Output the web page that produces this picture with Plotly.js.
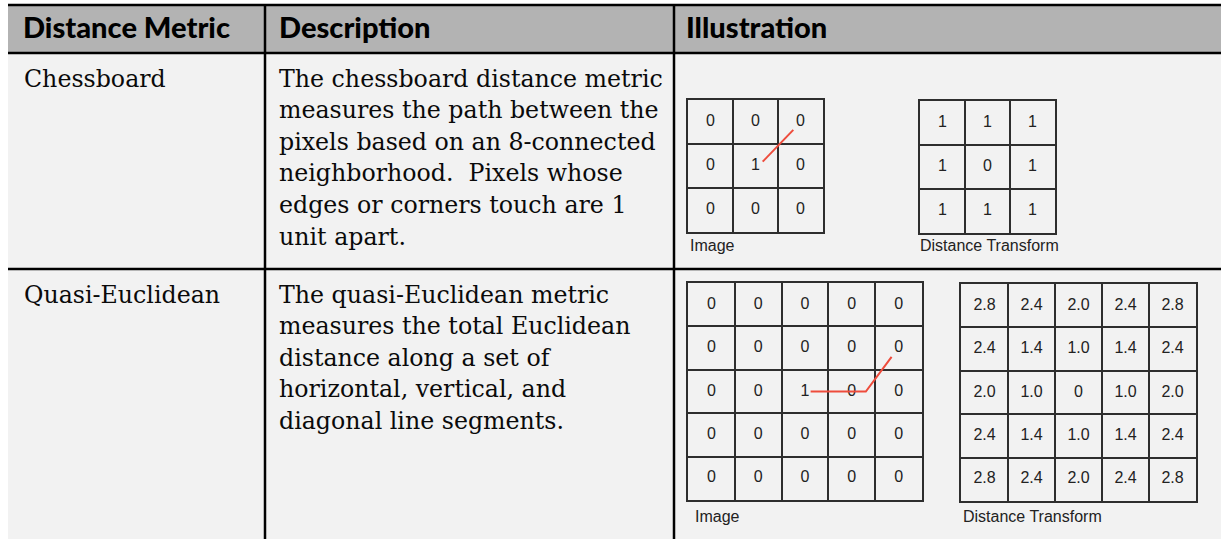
<!DOCTYPE html>
<html>
<head>
<meta charset="utf-8">
<script src="https://cdn.plot.ly/plotly-3.0.1.min.js"></script>
<style>
html, body { margin: 0; padding: 0; background: #ffffff; }
#chart { width: 1221px; height: 539px; }
</style>
</head>
<body>
<div id="chart"></div>
<script>
// ---------------- data ----------------
const headers = ['Distance Metric', 'Description', 'Illustration'];
const metrics = ['Chessboard', 'Quasi-Euclidean'];
const chessDescription = [
  'The chessboard distance metric',
  'measures the path between the',
  'pixels based on an 8-connected',
  'neighborhood.\u00a0 Pixels whose',
  'edges or corners touch are 1',
  'unit apart.'
];
const quasiDescription = [
  'The quasi-Euclidean metric',
  'measures the total Euclidean',
  'distance along a set of',
  'horizontal, vertical, and',
  'diagonal line segments.'
];
const panelLabels = ['Image', 'Distance Transform'];
const chessImage = [
  [0, 0, 0],
  [0, 1, 0],
  [0, 0, 0]
];
const chessTransform = [
  [1, 1, 1],
  [1, 0, 1],
  [1, 1, 1]
];
const quasiImage = [
  [0, 0, 0, 0, 0],
  [0, 0, 0, 0, 0],
  [0, 0, 1, 0, 0],
  [0, 0, 0, 0, 0],
  [0, 0, 0, 0, 0]
];
const quasiTransform = [
  [2.8, 2.4, 2.0, 2.4, 2.8],
  [2.4, 1.4, 1.0, 1.4, 2.4],
  [2.0, 1.0, 0, 1.0, 2.0],
  [2.4, 1.4, 1.0, 1.4, 2.4],
  [2.8, 2.4, 2.0, 2.4, 2.8]
];
// red path drawn over the images, in grid (column, row) units
const chessPathCol = [1.66, 2.34];
const chessPathRow = [1.40, 0.68];
const quasiPathCol = [2.62, 3.80, 4.35];
const quasiPathRow = [2.50, 2.50, 1.70];

// ---------------- layout constants ----------------
const W = 1221, H = 539;
const colEdges = [8, 265, 674, W];
const rowEdges = [5, 53, 269, H];
const headerInset = [15, 14, 12];
const bodyInset = [16, 14];
const headerBaseline = 38;
const firstBaseline = 33.6;
const lineGap = 31.6;

function textWidth(text, family, weight, size) {
  const ctx = document.createElement('canvas').getContext('2d');
  ctx.font = weight + ' ' + size + 'px "' + family + '"';
  return ctx.measureText(text).width;
}
const bodyFamily = 'DejaVu Serif';
const headFamily = 'Lato';
const headWeight = 900;
const bodySize = 100 * 384 / textWidth(chessDescription[0], bodyFamily, 'normal', 100);
const headSize = 100 * 207 / textWidth(headers[0], headFamily, headWeight, 100);
const numSize = 16;
const numFont = { family: 'Liberation Sans, Arial, sans-serif', size: numSize, color: '#222222' };

const traces = [];
function textTrace(xs, ys, texts, font) {
  return {
    type: 'scatter', mode: 'text', x: xs, y: ys, text: texts,
    textposition: 'middle right', textfont: font, cliponaxis: false,
    hoverinfo: 'skip', showlegend: false, xaxis: 'x', yaxis: 'y'
  };
}

// header row
traces.push(textTrace(
  headers.map((h, i) => colEdges[i] + headerInset[i]),
  headers.map(() => headerBaseline - 0.25 * headSize),
  headers,
  { family: headFamily, size: headSize, color: '#000000', weight: headWeight }
));

// body rows
const bodyFont = { family: bodyFamily, size: bodySize, color: '#0a0a0a' };
const descriptions = [chessDescription, quasiDescription];
metrics.forEach((m, r) => {
  const base = rowEdges[r + 1] + firstBaseline;
  traces.push(textTrace([colEdges[0] + bodyInset[0]], [base - 0.25 * bodySize], [m], bodyFont));
  const lines = descriptions[r];
  traces.push(textTrace(
    lines.map(() => colEdges[1] + bodyInset[1]),
    lines.map((_, i) => base + i * lineGap - 0.25 * bodySize),
    lines, bodyFont
  ));
});

// illustration panels
const intFmt = v => String(v);
const decFmt = v => (v === 0 ? '0' : v.toFixed(1));
const panels = [
  { values: chessImage, fmt: intFmt, path: [chessPathCol, chessPathRow], box: [688, 100, 823, 232], label: panelLabels[0], labelX: 690, labelBase: 251 },
  { values: chessTransform, fmt: intFmt, path: null, box: [920, 101, 1055, 233], label: panelLabels[1], labelX: 920, labelBase: 251 },
  { values: quasiImage, fmt: intFmt, path: [quasiPathCol, quasiPathRow], box: [688, 283, 922, 500], label: panelLabels[0], labelX: 695, labelBase: 522 },
  { values: quasiTransform, fmt: decFmt, path: null, box: [961, 284, 1196, 501], label: panelLabels[1], labelX: 963, labelBase: 522 }
];

const layout = {
  width: W, height: H,
  margin: { l: 0, r: 0, t: 0, b: 0, pad: 0 },
  paper_bgcolor: '#ffffff',
  plot_bgcolor: 'rgba(0,0,0,0)',
  showlegend: false,
  xaxis: { domain: [0, 1], range: [0, W], visible: false, fixedrange: true },
  yaxis: { domain: [0, 1], range: [H, 0], visible: false, fixedrange: true },
  shapes: []
};

const gridStyle = {
  showgrid: true, tick0: 0, dtick: 1, gridcolor: '#2e2e2e', gridwidth: 2,
  showline: true, mirror: true, linecolor: '#2e2e2e', linewidth: 2,
  zeroline: false, showticklabels: false, ticks: '', fixedrange: true
};

panels.forEach((p, k) => {
  const ax = k + 2;
  const n = p.values.length;
  const xs = [], ys = [], ts = [];
  p.values.forEach((row, r) => row.forEach((v, c) => {
    xs.push(c + 0.5); ys.push(r + 0.5); ts.push(p.fmt(v));
  }));
  traces.push({
    type: 'scatter', mode: 'text', x: xs, y: ys, text: ts,
    textposition: 'middle center', textfont: numFont,
    xaxis: 'x' + ax, yaxis: 'y' + ax, hoverinfo: 'skip', showlegend: false, cliponaxis: false
  });
  if (p.path) {
    traces.push({
      type: 'scatter', mode: 'lines', x: p.path[0], y: p.path[1],
      line: { color: '#ee4c3c', width: 2 },
      xaxis: 'x' + ax, yaxis: 'y' + ax, hoverinfo: 'skip', showlegend: false
    });
  }
  const [x0, y0, x1, y1] = p.box;
  layout['xaxis' + ax] = Object.assign({}, gridStyle, { domain: [x0 / W, x1 / W], range: [0, n], anchor: 'y' + ax });
  layout['yaxis' + ax] = Object.assign({}, gridStyle, { domain: [1 - y1 / H, 1 - y0 / H], range: [n, 0], anchor: 'x' + ax });
  traces.push(textTrace([p.labelX], [p.labelBase - 0.25 * numSize], [p.label], numFont));
});

// table structure
const S = layout.shapes;
S.push({ type: 'rect', xref: 'x', yref: 'y', x0: colEdges[0], x1: colEdges[3], y0: rowEdges[0], y1: rowEdges[1], fillcolor: '#b3b3b3', line: { width: 0 }, layer: 'below' });
S.push({ type: 'rect', xref: 'x', yref: 'y', x0: colEdges[0], x1: colEdges[3], y0: rowEdges[1], y1: rowEdges[3], fillcolor: '#f2f2f2', line: { width: 0 }, layer: 'below' });
rowEdges.slice(0, 3).forEach(y => S.push({ type: 'line', xref: 'x', yref: 'y', x0: colEdges[0], x1: colEdges[3], y0: y, y1: y, line: { color: '#000000', width: 2.5 }, layer: 'below' }));
colEdges.slice(1, 3).forEach(x => S.push({ type: 'line', xref: 'x', yref: 'y', x0: x, x1: x, y0: rowEdges[0], y1: rowEdges[3], line: { color: '#000000', width: 2.5 }, layer: 'below' }));

Plotly.newPlot('chart', traces, layout, { displayModeBar: false, staticPlot: true });
</script>
</body>
</html>
